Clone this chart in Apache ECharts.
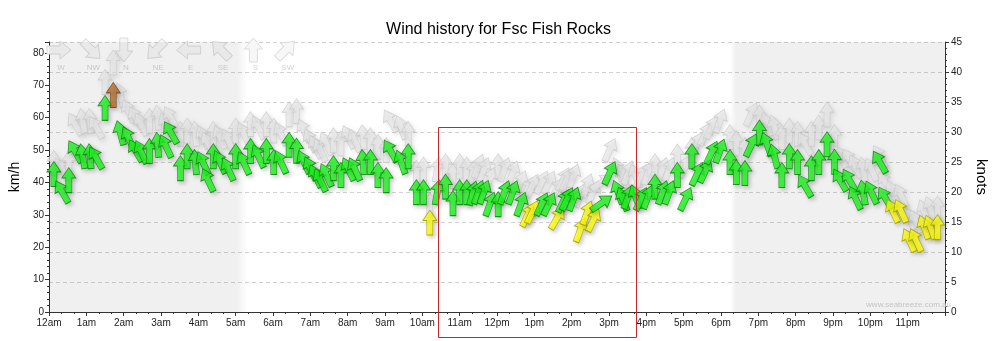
<!DOCTYPE html>
<html><head><meta charset="utf-8">
<script src="https://cdn.jsdelivr.net/npm/echarts@6/dist/echarts.min.js"></script>
<style>html,body{margin:0;padding:0;background:#fff}#c{width:997px;height:341px}</style>
</head><body><div id="c"></div>
<script>
const hourLabels = ['12am','1am','2am','3am','4am','5am','6am','7am','8am','9am','10am','11am','12pm','1pm','2pm','3pm','4pm','5pm','6pm','7pm','8pm','9pm','10pm','11pm'];
const kmhTicks = [0,10,20,30,40,50,60,70,80];
const knotTicks = [0,5,10,15,20,25,30,35,40,45];
// time of each reading (hours after midnight)
const times = [
0.13,0.35,0.53,0.70,0.90,1.10,1.26,1.50,1.72,1.91,2.13,2.32,2.47,2.69,2.91,3.13,3.26,3.52,3.70,3.92,4.13,4.26,4.40,
4.58,4.80,5.00,5.22,5.40,5.61,5.82,6.02,6.21,6.43,6.63,6.83,7.00,7.14,7.27,7.43,7.62,7.82,8.02,8.19,8.41,8.61,8.81,9.03,9.15,
9.43,9.62,9.84,10.03,10.20,10.40,10.62,10.82,11.00,11.19,11.35,11.50,11.65,11.81,12.03,12.20,12.42,12.64,12.82,12.95,13.20,13.39,13.61,13.78,
13.88,14.05,14.23,14.41,14.58,14.80,15.02,15.24,15.37,15.51,15.71,15.86,16.04,16.23,16.43,16.61,16.83,17.05,17.22,17.36,17.58,17.75,17.97,18.24,18.41,
18.64,18.81,19.03,19.23,19.43,19.63,19.83,20.05,20.25,20.42,20.62,20.84,21.04,21.19,21.44,21.60,21.81,22.03,22.25,22.40,22.60,22.82,23.04,23.22,23.44,23.61,23.80];
// average wind speed, km/h
const speeds = [
42.6,37.1,40.7,49.5,48.1,48.1,47.6,63.0,67.0,55.3,53.7,49.8,49.4,49.7,51.6,51.2,55.4,44.4,48.1,46.3,46.0,40.7,48.1,
46.3,44.1,48.1,46.0,49.7,48.1,49.7,46.3,46.3,51.6,49.8,46.3,44.4,42.0,40.7,42.3,44.4,42.3,44.1,44.1,46.3,46.3,42.3,40.7,49.7,
46.3,48.1,37.0,37.0,27.6,37.0,38.7,33.6,37.0,37.0,36.7,37.0,37.0,33.3,33.3,36.9,36.9,33.3,29.9,30.9,33.3,33.3,29.0,34.3,
34.9,34.9,25.3,30.6,28.4,33.6,42.9,37.0,34.9,35.5,35.6,34.9,35.5,38.7,36.9,36.9,42.3,34.9,48.1,42.6,43.5,49.2,49.7,46.3,43.2,
42.9,51.5,55.4,51.8,48.1,42.3,48.1,46.3,38.9,44.4,46.3,51.8,46.4,40.7,40.7,35.2,36.9,36.9,46.3,35.2,31.2,31.2,22.2,22.2,26.2,26.2,26.2];
// gust speed, km/h
const gusts = [
46,44,46,58,59,59,57,71,77,67,62,60,58,59,60,58,60,55,56,55,54,52,55,
54,53,56,55,58,57,58,56,55,61,62,56,53,51,50,52,53,52,54,53,54,53,51,50,59,
57,55,43,44,33,44,45,42,45,44,43,45,44,41,45,44,43,40,38,39,40,40,38,41,
41,42,36,39,37,40,50,44,42,43,42,42,43,45,44,44,48,45,50,52,55,57,59,54,52,
50,61,60,58,57,54,56,55,52,55,57,61,54,48,47,45,44,44,48,40,37,36,29,28,31,32,32];
// wind direction (degrees, blowing from)
const dirs = [
180,150,180,150,170,175,150,180,180,165,155,150,155,180,175,155,150,180,180,175,155,155,180,
155,155,180,155,180,155,180,180,155,180,180,155,155,155,155,155,180,180,155,155,175,180,180,180,150,
160,180,180,180,180,190,180,180,180,180,195,200,200,200,180,200,200,200,205,205,205,205,210,205,
205,200,200,200,205,235,205,160,160,200,160,205,200,180,200,200,180,205,180,205,205,205,200,180,180,
180,205,180,160,165,180,180,180,150,180,180,180,180,150,150,155,170,155,150,150,155,155,155,155,160,160,180];
const compassLabels = ['W','NW','N','NE','E','SE','S','SW'];
const compassFrom = [270,315,0,45,90,135,180,225];
const nightBands = [[0,5.3],[18.25,24]];
const highlightHours = [10.43,15.73];
const highlightTopKmh = 57.1;

const KN = 1.852;
const arrowPath = 'path://M7,0L14,10L10,10L10,24L4,24L4,10L0,10Z';
function colourFor(v){
  const kn = v / KN;
  if (kn >= 35) return ['#b86e2c','#6a3a12'];
  if (kn < 17.5) return ['#ffff10','#9c9a00'];
  return ['#1ef81e','#0b7a0b'];
}
const windData = times.map((t,i)=>{
  const c = colourFor(speeds[i]);
  return {value:[t,speeds[i]], symbolRotate: -((dirs[i]+180)%360),
    itemStyle:{color:c[0], borderColor:c[1]}};
});
const gustData = times.map((t,i)=>({value:[t,gusts[i]], symbolRotate: -((dirs[i]+180)%360)}));

const chart = echarts.init(document.getElementById('c'), null, {renderer:'canvas'});
const font = 'Liberation Sans, Arial, sans-serif';
const bandGrad = (dir)=> new echarts.graphic.LinearGradient(0,0,1,0, dir==='out'
  ? [{offset:0,color:'rgba(0,0,0,0.06)'},{offset:0.95,color:'rgba(0,0,0,0.06)'},{offset:1,color:'rgba(0,0,0,0)'}]
  : [{offset:0,color:'rgba(0,0,0,0)'},{offset:0.025,color:'rgba(0,0,0,0.06)'},{offset:1,color:'rgba(0,0,0,0.06)'}]);

function buildGraphics(extra){
  const els = [];
  compassLabels.forEach((lab,i)=>{
    const cx = 59 + i*32.4;
    const heading = (compassFrom[i]+180)%360;
    els.push({id:'ca'+i, type:'polygon', x:cx, y:50, rotation: -heading*Math.PI/180, z:1, silent:true,
      shape:{points:[[0,-12],[9,-1],[4,-1],[4,12],[-4,12],[-4,-1],[-9,-1]]},
      style:{fill:'#f7f7f7', stroke:'#dcdcdc', lineWidth:1}});
    els.push({id:'cl'+i, type:'text', x:cx+2, y:68, z:1, silent:true,
      style:{text:lab, fill:'#d4d4d4', font:'8px '+font, textAlign:'center', textVerticalAlign:'middle'}});
  });
  return els.concat(extra||[]);
}

const option = {
  animation:false,
  backgroundColor:'#fff',
  title:{text:'Wind history for Fsc Fish Rocks', left:'center', top:17,
    textStyle:{fontFamily:font, fontSize:16, fontWeight:'normal', color:'#000'}},
  grid:{left:47, right:42, top:42, bottom:29, containLabel:false},
  xAxis:{type:'value', min:0, max:24, interval:1,
    axisLine:{show:true, lineStyle:{color:'#333'}},
    axisTick:{show:true, length:4, lineStyle:{color:'#333'}},
    minorTick:{show:true, splitNumber:3, length:2, lineStyle:{color:'#333'}},
    splitLine:{show:false},
    axisLabel:{fontFamily:font, fontSize:10, color:'#222', margin:6, showMaxLabel:false,
      formatter:(v)=> hourLabels[Math.round(v)] !== undefined && Math.abs(v-Math.round(v))<1e-6 ? hourLabels[Math.round(v)] : ''}},
  yAxis:[
    {type:'value', min:0, max:45*KN, interval:10, position:'left',
      name:'km/h', nameLocation:'middle', nameGap:19, nameRotate:90,
      nameTextStyle:{fontFamily:font, fontSize:14, color:'#000'},
      axisLine:{show:true, lineStyle:{color:'#333'}},
      axisTick:{show:true, length:4, lineStyle:{color:'#333'}},
      minorTick:{show:true, splitNumber:5, length:2, lineStyle:{color:'#333'}},
      splitLine:{show:false},
      axisLabel:{fontFamily:font, fontSize:10, color:'#222', margin:5, showMaxLabel:false,
        formatter:(v)=> kmhTicks.includes(Math.round(v)) && Math.abs(v-Math.round(v))<1e-6 ? String(Math.round(v)) : ''}},
    {type:'value', min:0, max:45, interval:5, position:'right',
      name:'knots', nameLocation:'middle', nameGap:29, nameRotate:-90,
      nameTextStyle:{fontFamily:font, fontSize:15, color:'#000'},
      axisLine:{show:true, lineStyle:{color:'#333'}},
      axisTick:{show:true, length:4, lineStyle:{color:'#333'}},
      minorTick:{show:true, splitNumber:5, length:2, lineStyle:{color:'#333'}},
      splitLine:{show:true, lineStyle:{color:'#d2d2d2', type:[4,3], width:1}},
      axisLabel:{fontFamily:font, fontSize:10, color:'#222', margin:6,
        formatter:(v)=> knotTicks.includes(v) ? String(v) : ''}}
  ],
  series:[
    {type:'line', data:[], z:0, silent:true,
      markArea:{silent:true, data: nightBands.map((b,i)=>[
        {xAxis:b[0], itemStyle:{color: bandGrad(i===0?'out':'in')}}, {xAxis:b[1]}])}},
    {name:'gust', type:'scatter', yAxisIndex:0, z:2, data:gustData, symbol:arrowPath, symbolSize:[14,25],
      itemStyle:{color:'rgba(232,232,232,0.85)', borderColor:'rgba(200,200,200,0.9)', borderWidth:0.8,
        shadowBlur:4, shadowOffsetX:2, shadowOffsetY:2, shadowColor:'rgba(0,0,0,0.12)'}},
    {name:'wind', type:'scatter', yAxisIndex:0, z:3, data:windData, symbol:arrowPath, symbolSize:[14,25],
      itemStyle:{borderWidth:0.8, shadowBlur:4, shadowOffsetX:2, shadowOffsetY:2, shadowColor:'rgba(0,0,0,0.25)'}}
  ],
  graphic: {elements: buildGraphics()}
};
chart.setOption(option);

const x0 = chart.convertToPixel({xAxisIndex:0}, highlightHours[0]);
const x1 = chart.convertToPixel({xAxisIndex:0}, highlightHours[1]);
const yTop = chart.convertToPixel({yAxisIndex:0}, highlightTopKmh);
const L = Math.round(x0)+0.5, R = Math.round(x1)+0.5, T = Math.round(yTop)+0.5, B = 337.5;
chart.setOption({graphic: {elements: buildGraphics([
  {id:'hl', type:'polygon', z:100, zlevel:0, silent:true,
    shape:{points:[[L,T],[R,T],[R,B],[L,B]]},
    style:{fill:'rgba(0,0,0,0)', stroke:'rgb(200,38,44)', lineWidth:1}},
  {id:'wm', type:'text', z:10, silent:true, right:46, top:301,
    style:{text:'www.seabreeze.com.au', fill:'#c4c4c4', font:'8px '+font}}
])}});
</script>
</body></html>
